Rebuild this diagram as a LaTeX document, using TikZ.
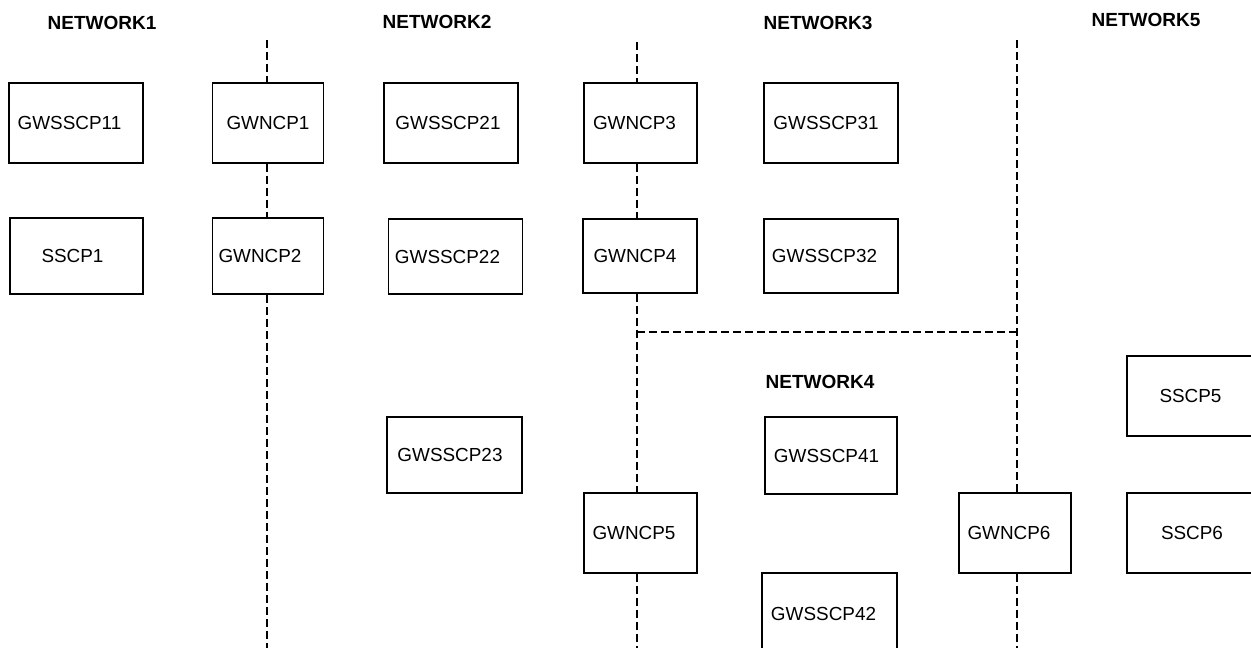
\documentclass[tikz,border=0pt]{standalone}
\usepackage{fontspec}
\setmainfont{Liberation Sans}
\newcommand\mybfont{\fontsize{18.9}{22}\selectfont}
\newcommand\mynfont{\fontsize{19}{22}\selectfont\bfseries}
\begin{document}
\begin{tikzpicture}[x=1pt,y=-1pt,
  box/.style={draw, line width=1.8pt, minimum width=134pt, minimum height=80pt, inner sep=0pt},
  nbox/.style={box, minimum width=111pt},
  lbl/.style={font=\mybfont, inner sep=0pt},
  net/.style={font=\mynfont, inner sep=0pt},
  wire/.style={line width=1.8pt, dash pattern=on 8pt off 4pt}]
\useasboundingbox (0,0) rectangle (1251,648);
% network titles
\node[net] (n1) at (102,23) {NETWORK1};
\node[net] (n2) at (437,22) {NETWORK2};
\node[net] (n3) at (818,23) {NETWORK3};
\node[net] (n4) at (820,382) {NETWORK4};
\node[net] (n5) at (1146,20) {NETWORK5};
% boxes
\node[box, label={[lbl,xshift=-6.5pt]center:GWSSCP11}] (g11) at (76,123) {};
\node[nbox, label={[lbl,xshift=0pt]center:GWNCP1}] (ncp1) at (268,123) {};
\node[box, label={[lbl,xshift=-3pt]center:GWSSCP21}] (g21) at (451,123) {};
\node[nbox, minimum width=113pt, label={[lbl,xshift=-6pt]center:GWNCP3}] (ncp3) at (640.5,123) {};
\node[box, label={[lbl,xshift=-5pt]center:GWSSCP31}] (g31) at (831,123) {};
\node[box, minimum width=133pt, minimum height=76pt, label={[lbl,xshift=-4pt]center:SSCP1}] (s1) at (76.5,256) {};
\node[nbox, minimum height=76pt, label={[lbl,xshift=-8pt]center:GWNCP2}] (ncp2) at (268,256) {};
\node[box, minimum height=75pt, label={[lbl,xshift=-8pt]center:GWSSCP22}] (g22) at (455.5,256.5) {};
\node[nbox, minimum width=114pt, minimum height=74pt, label={[lbl,xshift=-5pt]center:GWNCP4}] (ncp4) at (640,256) {};
\node[box, minimum height=74pt, label={[lbl,xshift=-6.5pt]center:GWSSCP32}] (g32) at (831,256) {};
\node[box, label={[lbl,xshift=-3.5pt]center:SSCP5}] (s5) at (1194,396) {};
\node[box, minimum width=135pt, minimum height=76pt, label={[lbl,xshift=-4.5pt]center:GWSSCP23}] (g23) at (454.5,455) {};
\node[box, minimum width=132pt, minimum height=77pt, label={[lbl,xshift=-4.5pt]center:GWSSCP41}] (g41) at (831,455.5) {};
\node[nbox, minimum width=113pt, label={[lbl,xshift=-6.5pt]center:GWNCP5}] (ncp5) at (640.5,533) {};
\node[nbox, minimum width=112pt, label={[lbl,xshift=-6pt]center:GWNCP6}] (ncp6) at (1015,533) {};
\node[box, label={[lbl,xshift=-2pt]center:SSCP6}] (s6) at (1194,533) {};
\node[box, minimum width=135pt, label={[lbl,xshift=-6pt,yshift=-1pt]center:GWSSCP42}] (g42) at (829.5,613) {};
% line ends
\coordinate (a0) at (267,40);
\coordinate (a1) at (267,648);
\coordinate (b0) at (637,42);
\coordinate (b1) at (637,648);
\coordinate (bj) at (637,332);
\coordinate (c0) at (1017,40);
\coordinate (c1) at (1017,648);
\coordinate (cj) at (1017,332);
% dashed lines
\draw[wire] (a0) -- (ncp1.north -| a0);
\draw[wire] (ncp1.south -| a0) -- (ncp2.north -| a0);
\draw[wire] (ncp2.south -| a0) -- (a1);
\draw[wire] (b0) -- (ncp3.north -| b0);
\draw[wire] (ncp3.south -| b0) -- (ncp4.north -| b0);
\draw[wire] (ncp4.south -| b0) -- (ncp5.north -| b0);
\draw[wire] (ncp5.south -| b0) -- (b1);
\draw[wire] (bj) -- (cj);
\draw[wire] (c0) -- (ncp6.north -| c0);
\draw[wire] (ncp6.south -| c0) -- (c1);
\end{tikzpicture}
\end{document}
